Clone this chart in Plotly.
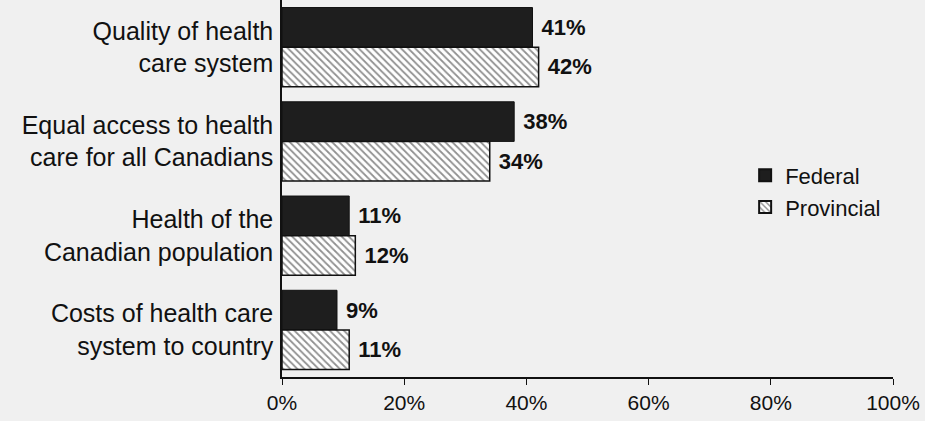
import plotly.graph_objects as go

categories = ["Quality of health<br>care system",
              "Equal access to health<br>care for all Canadians",
              "Health of the<br>Canadian population",
              "Costs of health care<br>system to country"]
federal = [41, 38, 11, 9]
provincial = [42, 34, 12, 11]
tick_vals = [0, 20, 40, 60, 80, 100]
tick_text = ["0%", "20%", "40%", "60%", "80%", "100%"]

FONT = "Liberation Sans"
NBSP = "\u00a0"

fig = go.Figure()
fig.add_trace(go.Bar(
    y=categories, x=federal, orientation="h", name="Federal",
    marker=dict(color="#1e1e1e", line=dict(color="#111111", width=1)),
    text=[f"{NBSP}{v}%" for v in federal], textposition="outside",
    textfont=dict(family=FONT, size=22, color="#111111", weight="bold"),
    cliponaxis=False,
))
fig.add_trace(go.Bar(
    y=categories, x=provincial, orientation="h", name="Provincial",
    marker=dict(color="white", line=dict(color="#111111", width=1.5),
                pattern=dict(shape="\\", fgcolor="#222222", bgcolor="white",
                             size=5, solidity=0.35)),
    text=[f"{NBSP}{v}%" for v in provincial], textposition="outside",
    textfont=dict(family=FONT, size=22, color="#111111", weight="bold"),
    cliponaxis=False,
))

fig.update_layout(
    width=925, height=421,
    margin=dict(l=282, r=32, t=0, b=44),
    paper_bgcolor="#f0f0f0", plot_bgcolor="#f0f0f0",
    barmode="group", bargap=0.16, bargroupgap=0,
    font=dict(family=FONT, color="#111111"),
    showlegend=True,
    legend=dict(x=0.758, y=0.59, xanchor="left", yanchor="top",
                bgcolor="rgba(0,0,0,0)", font=dict(size=22, family=FONT),
                itemsizing="constant", tracegroupgap=4),
    xaxis=dict(range=[0, 100], tickvals=tick_vals, ticktext=tick_text,
               showgrid=False, zeroline=False, showline=True,
               linecolor="#111111", linewidth=1.5,
               ticks="outside", ticklen=6, tickcolor="#111111",
               tickfont=dict(size=21, family=FONT), fixedrange=True),
    yaxis=dict(autorange="reversed", showgrid=False, showline=True,
               linecolor="#111111", linewidth=1.5, ticks="",
               ticklabelstandoff=2, fixedrange=True,
               tickfont=dict(size=25, family=FONT)),
)

fig.write_html("out.html", config={"displayModeBar": False},
               post_script="document.body.style.margin='0px';")
